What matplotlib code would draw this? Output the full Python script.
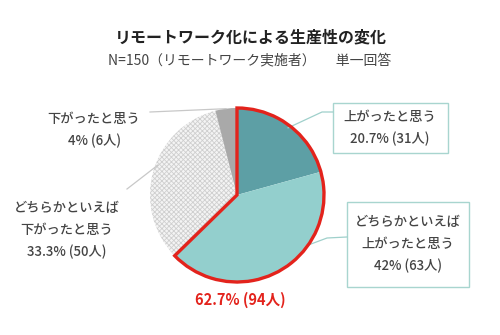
import numpy as np
import matplotlib
matplotlib.use("Agg")
import matplotlib.pyplot as plt
from matplotlib.patches import Wedge, Rectangle

plt.rcParams['font.family'] = ['Noto Sans CJK JP', 'DejaVu Sans']
plt.rcParams['hatch.linewidth'] = 0.6

title = "リモートワーク化による生産性の変化"
subtitle = "N=150（リモートワーク実施者）　  単一回答"
categories = ["上がったと思う", "どちらかといえば\n上がったと思う",
              "どちらかといえば\n下がったと思う", "下がったと思う"]
values = [20.7, 42.0, 33.3, 4.0]
counts = [31, 63, 50, 6]
total_label = "62.7% (94人)"
colors = ["#5d9fa5", "#93cfcd", "#f4f4f4", "#a9a9a9"]

W, H = 500, 335
fig = plt.figure(figsize=(5, 3.35), dpi=100)
ax = fig.add_axes([0, 0, 1, 1])
ax.set_xlim(0, W)
ax.set_ylim(0, H)
ax.axis('off')

def Y(py):
    return H - py

cx, cy, r = 237, Y(195), 87
wedges, _ = ax.pie(values, colors=colors, startangle=90, counterclock=False,
                   center=(cx, cy), radius=r, frame=True,
                   wedgeprops=dict(linewidth=0))
ax.set_xlim(0, W)
ax.set_ylim(0, H)
ax.axis('off')
wedges[2].set_hatch('xxxxxxx')
wedges[2].set_edgecolor('#cfcfcf')
wedges[2].set_linewidth(0)

# red outline around the "up" slices
up_share = values[0] + values[1]
theta2 = 90
theta1 = 90 - up_share / 100 * 360
ax.add_patch(Wedge((cx, cy), r, theta1, theta2, facecolor='none',
                   edgecolor='#e3231c', linewidth=2.4, joinstyle='miter', zorder=5))

# angles of slice midpoints
cum = np.cumsum([0] + values)
mids = [90 - (cum[i] + cum[i + 1]) / 2 * 3.6 for i in range(len(values))]

def edge_pt(i, frac=0.97):
    a = np.deg2rad(mids[i])
    return cx + r * frac * np.cos(a), cy + r * frac * np.sin(a)

line_col_teal = '#9fd0cb'
line_col_grey = '#c8c8c8'
# leader lines
x0, y0 = edge_pt(0)
ax.plot([x0, 322, 333], [y0, Y(112), Y(112)], color=line_col_teal, lw=0.9)
x0, y0 = edge_pt(1, 1.0)
ax.plot([303, 327, 347], [Y(247), Y(238), Y(237)], color=line_col_teal, lw=0.9)
x0, y0 = edge_pt(3, 1.0)
ax.plot([x0, 150], [y0, Y(112)], color=line_col_grey, lw=0.9)
x0, y0 = edge_pt(2, 0.95)
ax.plot([158, 127], [Y(165), Y(189)], color=line_col_grey, lw=0.9)

txt = '#444444'
fs = 9.5
# boxes
ax.add_patch(Rectangle((333, Y(153)), 115, 50, facecolor='white',
                       edgecolor='#a8d5cf', lw=1.0))
ax.add_patch(Rectangle((347, Y(287)), 122, 85, facecolor='white',
                       edgecolor='#a8d5cf', lw=1.0))

def pct(v):
    s = f"{v:g}"
    return s

ax.text(390, Y(128), f"{categories[0]}\n{pct(values[0])}% ({counts[0]}人)",
        ha='center', va='center', fontsize=fs, color=txt, linespacing=1.7,
        fontweight='medium')
ax.text(408, Y(244), f"{categories[1]}\n{pct(values[1]):s}% ({counts[1]}人)",
        ha='center', va='center', fontsize=fs, color=txt, linespacing=1.7,
        fontweight='medium')
ax.text(94, Y(130), f"{categories[3]}\n{pct(values[3])}% ({counts[3]}人)",
        ha='center', va='center', fontsize=fs, color=txt, linespacing=1.7,
        fontweight='medium')
ax.text(67, Y(230), f"{categories[2]}\n{pct(values[2])}% ({counts[2]}人)",
        ha='center', va='center', fontsize=fs, color=txt, linespacing=1.7,
        fontweight='medium')
ax.text(240, Y(300), total_label, ha='center', va='center', fontsize=10.5,
        color='#e3231c', fontweight='bold')

ax.text(251, Y(37), title, ha='center', va='center', fontsize=11.5,
        fontweight='bold', color='#222222')
ax.text(250, Y(60), subtitle, ha='center', va='center', fontsize=10,
        color='#444444')

fig.savefig('out.png', dpi=100)
